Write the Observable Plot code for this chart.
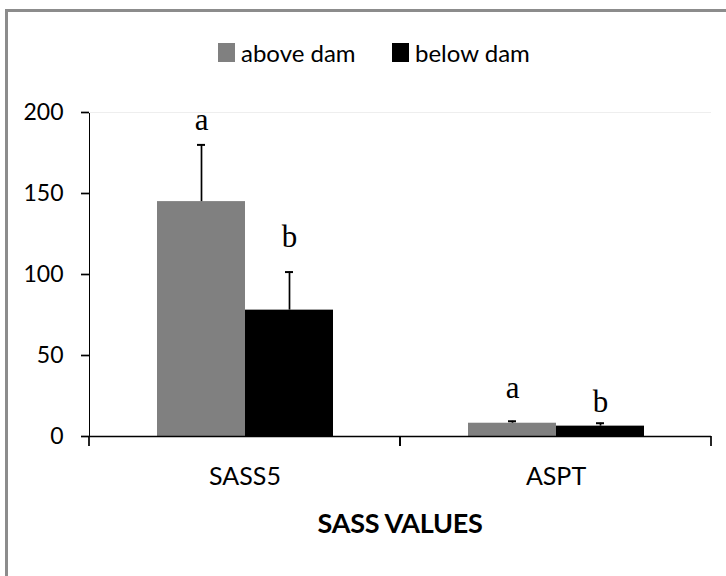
<!DOCTYPE html>
<html>
<head>
<meta charset="utf-8">
<script src="https://cdn.jsdelivr.net/npm/d3@7"></script>
<script src="https://cdn.jsdelivr.net/npm/@observablehq/plot@0.6"></script>
<style>
  html, body { margin: 0; padding: 0; background: #fff; }
  #wrap { position: relative; width: 726px; height: 576px; overflow: hidden; font-family: Lato, "Open Sans", sans-serif; color: #000; }
  #frame { position: absolute; left: 5px; top: 9px; width: 760px; height: 600px; border-top: 3px solid #8c8c8c; border-left: 3px solid #8c8c8c; box-sizing: border-box; }
  #legend { position: absolute; top: 37px; left: 0; width: 726px; height: 30px; font-size: 24px; }
  .lg { position: absolute; top: 0; display: flex; align-items: center; height: 30px; }
  .sw { width: 17px; height: 19px; margin-right: 6px; }
  #chart { position: absolute; left: 0; top: 80px; }
  #title { position: absolute; top: 506px; left: 300px; width: 200px; text-align: center; font-size: 27px; font-weight: 700; letter-spacing: -0.3px; }
  g[aria-label^="y-axis"] path, g[aria-label^="y-axis"] line { stroke-width: 1.7px; }
  g[aria-label^="y-axis"] text { font-size: 23px; }
  g[aria-label^="fx-axis"] text { font-size: 25px; }
</style>
</head>
<body>
<div id="wrap">
  <div id="frame"></div>
  <div id="legend"></div>
  <div id="chart"></div>
  <div id="title"></div>
</div>
<script>
// ---- data ----
const categories = ["SASS5", "ASPT"];
const series = ["above dam", "below dam"];
const seriesColors = ["#808080", "#000000"];
const aboveMean = [145, 8.2];
const aboveSD = [35, 1.2];
const belowMean = [78, 6.4];
const belowSD = [23.5, 1.8];
const aboveLetters = ["a", "a"];
const belowLetters = ["b", "b"];
const aboveLetterY = [189, 23.5];
const belowLetterY = [117, 15];
const yTicks = [0, 50, 100, 150, 200];
const xTitle = "SASS VALUES";

// ---- table ----
const rows = [];
categories.forEach((c, i) => {
  rows.push({cat: c, series: series[0], mean: aboveMean[i], sd: aboveSD[i], letter: aboveLetters[i], ly: aboveLetterY[i]});
  rows.push({cat: c, series: series[1], mean: belowMean[i], sd: belowSD[i], letter: belowLetters[i], ly: belowLetterY[i]});
});

// ---- legend ----
const legend = document.getElementById("legend");
const legendX = [218, 392];
series.forEach((s, i) => {
  const item = document.createElement("div");
  item.className = "lg";
  item.style.left = legendX[i] + "px";
  const sw = document.createElement("div");
  sw.className = "sw";
  sw.style.background = seriesColors[i];
  const t = document.createElement("span");
  t.textContent = s;
  item.appendChild(sw); item.appendChild(t);
  legend.appendChild(item);
});
document.getElementById("title").textContent = xTitle;

// boundary tick marks below the category axis
function boundaryTicks(index, scales) {
  const [r0, r1] = scales.x.range();
  const y0 = scales.y(0);
  const p = document.createElementNS("http://www.w3.org/2000/svg", "path");
  p.setAttribute("d", `M${r0},${y0}v10M${r1},${y0}v10`);
  p.setAttribute("stroke", "#000");
  p.setAttribute("stroke-width", "1.7");
  p.setAttribute("fill", "none");
  return p;
}

const chart = Plot.plot({
  width: 726,
  height: 420,
  marginTop: 32,
  marginBottom: 64,
  marginLeft: 88,
  marginRight: 15,
  style: {fontFamily: "Lato, 'Open Sans', sans-serif", fontSize: "22px", color: "#000", background: "transparent"},
  fx: {domain: categories, padding: 0, axis: "bottom", tickSize: 0, tickPadding: 31, label: null},
  x: {domain: series, paddingInner: 0, paddingOuter: 0.75, axis: null},
  y: {domain: [0, 200], ticks: yTicks, tickSize: 8, tickPadding: 18, line: true, label: null},
  color: {domain: series, range: seriesColors},
  marks: [
    Plot.ruleY([200], {stroke: "#eeeeee"}),
    Plot.barY(rows, {fx: "cat", x: "series", y: "mean", fill: "series"}),
    Plot.ruleX(rows, {fx: "cat", x: "series", y1: "mean", y2: d => d.mean + d.sd, stroke: "#000", strokeWidth: 1.7}),
    Plot.tickY(rows, {fx: "cat", x: "series", y: d => d.mean + d.sd, stroke: "#000", strokeWidth: 2, insetLeft: 40, insetRight: 40}),
    Plot.text(rows, {fx: "cat", x: "series", y: "ly", text: "letter", fontFamily: "'Liberation Serif', 'DejaVu Serif', serif", fontSize: 31, lineAnchor: "bottom", fill: "#000"}),
    Plot.ruleY([0], {stroke: "#000", strokeWidth: 1.7}),
    boundaryTicks
  ]
});
document.getElementById("chart").appendChild(chart);
</script>
</body>
</html>
